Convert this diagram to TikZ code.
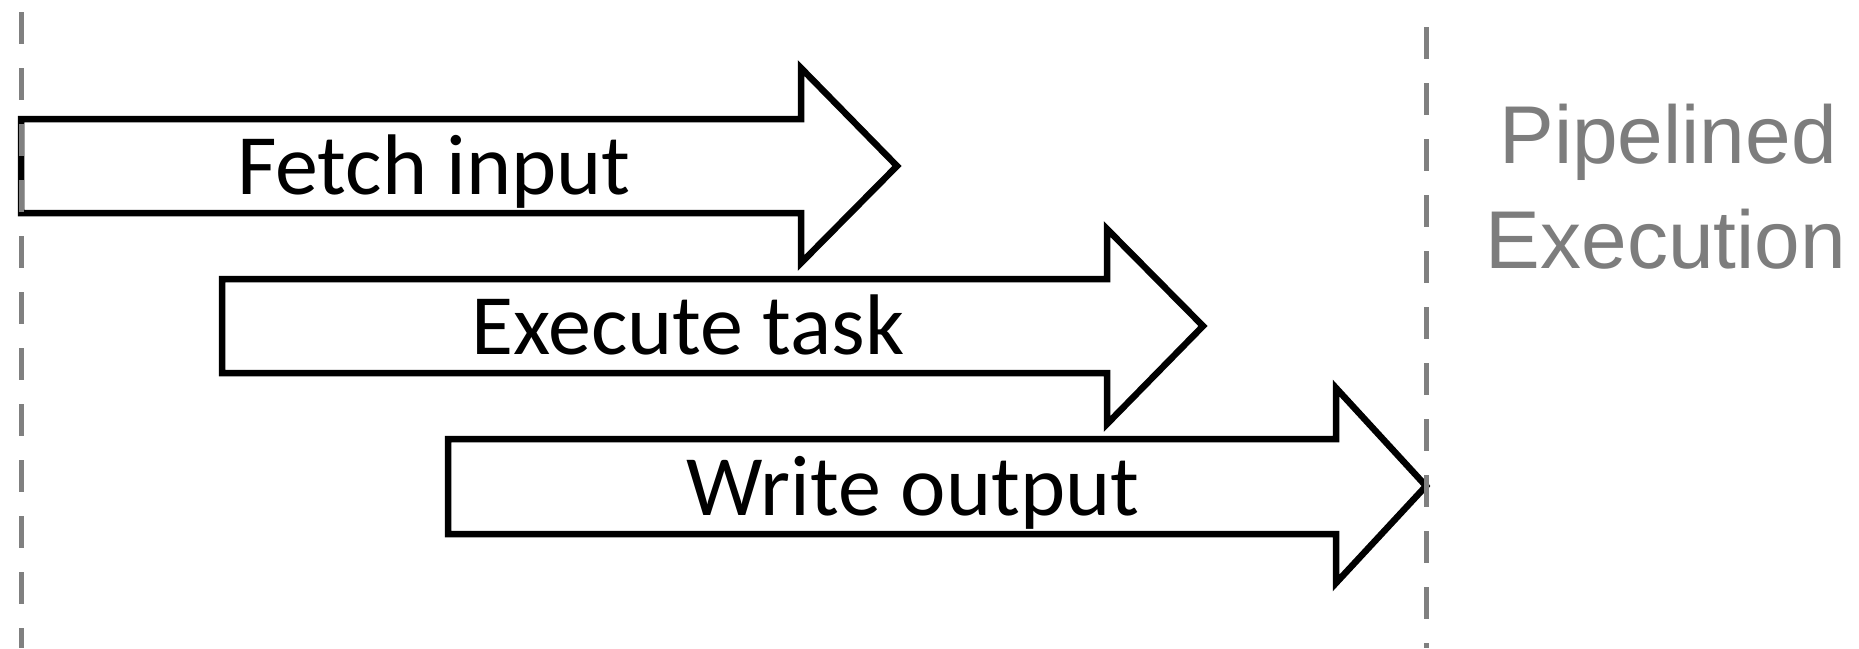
\documentclass[tikz,border=0pt]{standalone}
\usepackage{fontspec}
\setmainfont{Carlito}
\newfontfamily\helv{Liberation Sans}
\definecolor{guide}{RGB}{128,128,128}
\definecolor{labelgray}{RGB}{125,125,125}
\begin{document}
\begin{tikzpicture}[x=1pt,y=-1pt,
  arrowshape/.style={draw=black,fill=white,line width=6.5pt,line join=miter},
  guideline/.style={draw=guide,line width=5pt,dash pattern=on 32pt off 24pt},
  steplabel/.style={anchor=base,inner sep=0pt,font=\fontsize{86}{90}\selectfont},
  sidelabel/.style={anchor=base,inner sep=0pt,text=labelgray,font=\helv\fontsize{82}{90}\selectfont}]
\useasboundingbox[fill=white] (0,0) rectangle (1859,648);
% arrows
\draw[arrowshape] (21,119) -- (801,119) -- (801,68) -- (897,166) -- (801,263) -- (801,213) -- (21,213) -- cycle;
\draw[arrowshape] (222,279) -- (1107,279) -- (1107,229) -- (1203,326) -- (1107,424) -- (1107,373) -- (222,373) -- cycle;
\draw[arrowshape] (448,439) -- (1336,439) -- (1336,388) -- (1426,486) -- (1336,583) -- (1336,534) -- (448,534) -- cycle;
% labels
\node[steplabel] (fetch) at (434,194) {Fetch input};
\node[steplabel] (exec) at (688,354) {Execute task};
\node[steplabel] (write) at (913,515) {Write output};
\node[sidelabel] (pipe) at (1668,163) {Pipelined};
\node[sidelabel] (execution) at (1666,268) {Execution};
% guide lines
\coordinate (lt) at (21,12);
\coordinate (lb) at (21,648);
\coordinate (rt) at (1426,27);
\coordinate (rb) at (1426,648);
\draw[guideline] (lt) -- (lb);
\draw[guideline] (rt) -- (rb);
\end{tikzpicture}
\end{document}
